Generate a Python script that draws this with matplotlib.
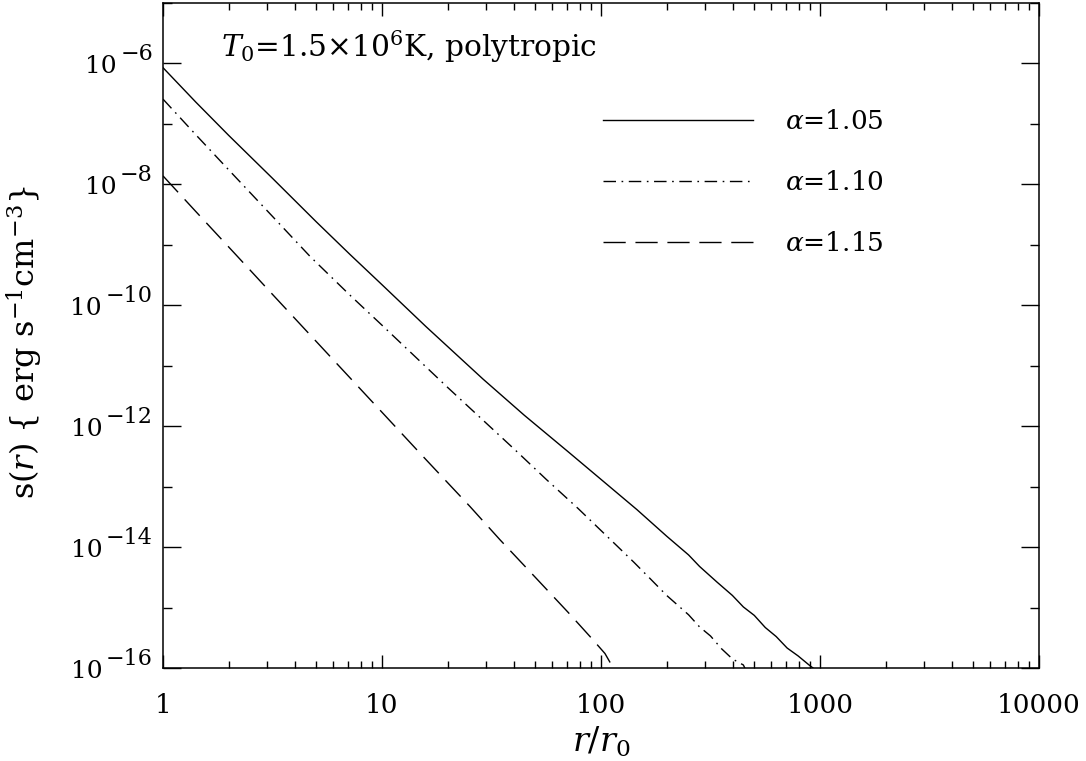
import numpy as np
import matplotlib
matplotlib.use("Agg")
import matplotlib.pyplot as plt
from matplotlib.ticker import FixedLocator, NullFormatter

plt.rcParams['mathtext.fontset'] = 'dejavuserif'
plt.rcParams['font.family'] = ['DejaVu Serif']

# ---- data (log10 r/r0, log10 s) ----
logr_105 = [0, 0.15, 0.3, 0.5, 0.7, 0.854, 1.0, 1.2, 1.461, 1.65, 1.849, 2.0, 2.164,
            2.3, 2.4, 2.45, 2.53, 2.6, 2.65, 2.7, 2.75, 2.8, 2.85, 2.9, 2.95, 2.986]
logs_105 = [-6.07, -6.64, -7.19, -7.90, -8.62, -9.16, -9.66, -10.35, -11.22, -11.82, -12.42,
            -12.88, -13.38, -13.82, -14.13, -14.32, -14.58, -14.80, -14.99, -15.13, -15.33,
            -15.48, -15.67, -15.80, -15.95, -16.05]

logr_110 = [0, 0.15, 0.3, 0.5, 0.671, 0.85, 1.0, 1.3, 1.607, 1.75, 1.895, 2.05, 2.15, 2.224,
            2.3, 2.4, 2.45, 2.5, 2.55, 2.6, 2.65, 2.67]
logs_110 = [-6.59, -7.18, -7.76, -8.53, -9.19, -9.82, -10.33, -11.36, -12.39, -12.88, -13.36,
            -13.90, -14.25, -14.52, -14.80, -15.12, -15.32, -15.47, -15.68, -15.85, -15.95, -16.1]

logr_115 = [0, 0.15, 0.342, 0.5, 0.7, 1.0, 1.2, 1.402, 1.539, 1.7, 1.85, 1.95, 2.018, 2.064]
logs_115 = [-7.86, -8.45, -9.20, -9.82, -10.60, -11.77, -12.55, -13.33, -13.88, -14.50,
            -15.08, -15.48, -15.76, -16.05]

labels = [r'$\alpha$=1.05', r'$\alpha$=1.10', r'$\alpha$=1.15']
xticks = [1, 10, 100, 1000, 10000]
xticklabels = ['1', '10', '100', '1000', '10000']
yticks_major = [1e-16, 1e-14, 1e-12, 1e-10, 1e-8, 1e-6]
yexp_labels = ['\u221216', '\u221214', '\u221212', '\u221210', '\u22128', '\u22126']
yticks_minor = [1e-15, 1e-13, 1e-11, 1e-9, 1e-7, 1e-5]

fig = plt.figure(figsize=(10.86, 7.61), dpi=100)
ax = fig.add_axes([163/1086, 1 - 668/761, (1039-163)/1086, (668-3)/761])

lw = 1.0
ax.plot(10**np.array(logr_105), 10**np.array(logs_105), color='black', lw=lw,
        linestyle='-', label=labels[0])
ax.plot(10**np.array(logr_110), 10**np.array(logs_110), color='black', lw=lw,
        linestyle=(0, (9, 4, 1.2, 4)), label=labels[1])
ax.plot(10**np.array(logr_115), 10**np.array(logs_115), color='black', lw=lw,
        linestyle=(0, (16, 7)), label=labels[2])

ax.set_xscale('log')
ax.set_yscale('log')
ax.set_xlim(1, 10000)
ax.set_ylim(1e-16, 1e-5)

ax.xaxis.set_major_locator(FixedLocator(xticks))
ax.set_xticklabels(xticklabels)
ax.xaxis.set_minor_locator(FixedLocator([m * 10**d for d in range(4) for m in range(2, 10)]))
ax.xaxis.set_minor_formatter(NullFormatter())
ax.yaxis.set_major_locator(FixedLocator(yticks_major))
ax.set_yticklabels([''] * len(yticks_major))
ax.yaxis.set_minor_locator(FixedLocator(yticks_minor))
ax.yaxis.set_minor_formatter(NullFormatter())

ax.tick_params(axis='both', which='both', direction='in', top=True, right=True,
               width=1.0, colors='black')
ax.tick_params(axis='x', which='major', length=9.5, pad=18, labelsize=19)
ax.tick_params(axis='x', which='minor', length=5)
ax.tick_params(axis='y', which='major', length=13, pad=8)
ax.tick_params(axis='y', which='minor', length=6.5)
for s in ax.spines.values():
    s.set_linewidth(1.1)

ax.set_xlabel(r'$r/r_{\mathit{0}}$', fontsize=24, labelpad=5)
ax.set_ylabel(r'$\mathrm{s}(r)$ { erg s$^{-1}$cm$^{-3}$}', fontsize=23)
ax.yaxis.set_label_coords(-0.135, 0.49)

ax.text(0.066, 0.962, r'$T_{\mathit{0}}$=1.5$\times$10$^{6}$K, polytropic',
        transform=ax.transAxes, fontsize=21.3, va='top', ha='left')

leg = ax.legend(loc='upper left', bbox_to_anchor=(0.475, 0.876), frameon=False,
                fontsize=19, handlelength=5.7, handletextpad=1.2, labelspacing=1.36)

# y tick labels in the original style: "10" with a large raised exponent
fig.canvas.draw()
renderer = fig.canvas.get_renderer()
for val, ex in zip(yticks_major, yexp_labels):
    te = ax.annotate(ex, xy=(0, val), xycoords=('axes fraction', 'data'),
                     xytext=(-10, 3), textcoords='offset pixels',
                     ha='right', va='baseline', fontsize=16)
    w = te.get_window_extent(renderer).width
    ax.annotate('10', xy=(0, val), xycoords=('axes fraction', 'data'),
                xytext=(-10 - w - 4, -10), textcoords='offset pixels',
                ha='right', va='baseline', fontsize=18)

fig.savefig('out.png', dpi=100)
